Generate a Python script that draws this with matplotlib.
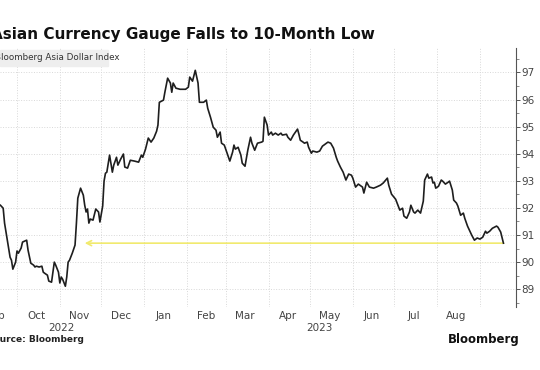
import numpy as np
import pandas as pd
import matplotlib
matplotlib.use('Agg')
import matplotlib.pyplot as plt
import matplotlib.transforms as mtransforms

# Bloomberg Asia Dollar Index, days counted from 1 Oct 2022
start = pd.Timestamp('2022-10-01')
days = [-12, -10, -9, -7, -5, -4, -3, -1, 0, 1, 3, 4, 7, 8, 10, 12, 13, 14, 16, 18,
        19, 20, 22, 23, 25, 26, 27, 28, 30, 31, 32, 33, 35, 36, 37, 38, 40, 42, 43, 44,
        46, 48, 49, 50, 51, 52, 53, 55, 57, 59, 60, 62, 63, 64, 65, 67, 69, 70, 72, 73,
        75, 77, 78, 80, 82, 85, 88, 90, 91, 93, 95, 97, 99, 101, 102, 103, 106, 107, 109, 111,
        112, 113, 115, 118, 122, 124, 125, 127, 129, 131, 132, 135, 137, 138, 140, 142, 144, 145, 147, 148,
        150, 153, 154, 156, 157, 158, 160, 162, 163, 165, 167, 169, 170, 172, 174, 177, 178, 179, 181, 182,
        184, 185, 187, 189, 191, 192, 195, 196, 198, 200, 203, 204, 205, 207, 208, 210, 211, 213, 214, 217,
        219, 221, 224, 225, 227, 229, 231, 232, 234, 236, 238, 240, 242, 243, 245, 247, 250, 251, 253, 255,
        258, 260, 263, 265, 268, 269, 271, 274, 277, 279, 280, 282, 284, 285, 287, 288, 290, 292, 294, 295,
        297, 298, 300, 301, 302, 303, 305, 307, 308, 310, 312, 313, 315, 316, 318, 319, 321, 323, 324, 326,
        329, 331, 333, 335, 337, 339, 340, 342, 344, 347, 348, 350, 352]
index = [92.10, 91.99, 91.44, 90.81, 90.18, 90.07, 89.74, 90.00, 90.41, 90.33, 90.52, 90.74, 90.81, 90.44, 89.96, 89.89, 89.82, 89.85, 89.82, 89.85,
         89.63, 89.59, 89.52, 89.30, 89.26, 89.63, 90.00, 89.89, 89.63, 89.23, 89.45, 89.37, 89.11, 89.45, 90.00, 90.07, 90.33, 90.63, 91.44, 92.36,
         92.73, 92.47, 92.10, 91.85, 91.96, 91.44, 91.59, 91.55, 91.96, 91.85, 91.48, 92.07, 92.99, 93.28, 93.32, 93.95, 93.32, 93.58, 93.87, 93.58,
         93.80, 93.99, 93.51, 93.47, 93.76, 93.73, 93.69, 93.95, 93.87, 94.17, 94.58, 94.43, 94.58, 94.83, 95.06, 95.90, 95.98, 96.27, 96.79, 96.61,
         96.27, 96.61, 96.42, 96.38, 96.38, 96.46, 96.83, 96.68, 97.08, 96.61, 95.90, 95.90, 95.98, 95.68, 95.35, 94.98, 94.87, 94.61, 94.80, 94.39,
         94.32, 93.87, 93.73, 94.06, 94.32, 94.17, 94.24, 93.95, 93.65, 93.54, 94.13, 94.61, 94.39, 94.13, 94.39, 94.43, 94.46, 95.35, 95.06, 94.69,
         94.80, 94.69, 94.76, 94.69, 94.76, 94.69, 94.72, 94.61, 94.50, 94.69, 94.91, 94.72, 94.50, 94.43, 94.39, 94.43, 94.24, 94.02, 94.10, 94.06,
         94.10, 94.28, 94.39, 94.43, 94.39, 94.21, 93.87, 93.73, 93.51, 93.32, 93.03, 93.25, 93.21, 93.10, 92.77, 92.88, 92.77, 92.55, 92.95, 92.77,
         92.73, 92.77, 92.84, 92.92, 93.10, 92.84, 92.51, 92.32, 91.92, 91.99, 91.70, 91.62, 91.85, 92.10, 91.85, 91.81, 91.92, 91.81, 92.25, 93.03,
         93.25, 93.10, 93.14, 92.92, 92.95, 92.73, 92.80, 93.03, 92.99, 92.88, 92.95, 92.99, 92.66, 92.29, 92.18, 92.07, 91.73, 91.81, 91.62, 91.33,
         91.00, 90.81, 90.89, 90.85, 90.92, 91.14, 91.07, 91.14, 91.25, 91.33, 91.29, 91.11, 90.70]
assert len(days) == len(index)

months = ['Sep', 'Oct', 'Nov', 'Dec', 'Jan', 'Feb', 'Mar', 'Apr', 'May', 'Jun', 'Jul', 'Aug']
month_mid = pd.date_range('2022-09-01', periods=12, freq='MS') + pd.Timedelta(days=14)
month_start = pd.date_range('2022-10-01', '2023-09-01', freq='MS')
low_level = 90.70
low_from = '2022-11-19'

dates = start + pd.to_timedelta(days, unit='D')

fig = plt.figure(figsize=(5.4, 3.7), dpi=100)
ax = fig.add_axes([0.0, 0.170, 0.9556, 0.700])

ax.plot(dates, index, color='#1e1e1e', lw=1.2, zorder=3)

# yellow arrow back to the November level
ax.annotate('', xy=(pd.Timestamp(low_from), low_level), xytext=(dates[-1], low_level),
            arrowprops=dict(arrowstyle='->', color='#f1ea6e', lw=1.2,
                            shrinkA=0, shrinkB=0, mutation_scale=9), zorder=2)

ax.set_xlim(start - pd.Timedelta(days=12.3), start + pd.Timedelta(days=361.1))
ax.set_ylim(88.34, 97.9)

for s in ['left', 'top', 'bottom']:
    ax.spines[s].set_visible(False)
ax.spines['right'].set_color('#555555')
ax.spines['right'].set_linewidth(0.8)

ax.yaxis.tick_right()
ax.set_yticks(np.arange(89, 98))
ax.set_yticks(np.arange(88.5, 98, 1.0), minor=True)
ax.tick_params(axis='y', which='major', length=3, width=0.7, color='#555555',
               labelsize=7.5, labelcolor='#444444', pad=1)
ax.tick_params(axis='y', which='minor', length=2, width=0.6, color='#777777')
ax.grid(axis='y', which='major', color='#d8d8d8', lw=0.7, ls=':')

ax.set_xticks(month_start)
ax.tick_params(axis='x', length=0, labelbottom=False)
ax.grid(axis='x', color='#d8d8d8', lw=0.7, ls=':')

trans = mtransforms.blended_transform_factory(ax.transData, ax.transAxes)
for m, d in zip(months, month_mid):
    ax.text(d, -0.015, m, transform=trans, ha='center', va='top', fontsize=7.5,
            color='#444444', clip_on=False)
ax.text(pd.Timestamp('2022-11-02'), -0.062, '2022', transform=trans, ha='center', va='top',
        fontsize=7.5, color='#444444', clip_on=False)
ax.text(pd.Timestamp('2023-05-08'), -0.062, '2023', transform=trans, ha='center', va='top',
        fontsize=7.5, color='#444444', clip_on=False)

# header and footer
fig.text(-9 / 540, 1 - 35 / 370, 'Asian Currency Gauge Falls to 10-Month Low',
         fontsize=11, fontweight='bold', color='#111111', va='center', ha='left')
fig.patches.append(plt.Rectangle((0, 1 - 66 / 370), 108 / 540, 16 / 370,
                                 transform=fig.transFigure, color='#eeeeee', zorder=0))
fig.text(-5 / 540, 1 - 58 / 370, 'Bloomberg Asia Dollar Index', fontsize=6.3,
         color='#333333', va='center', ha='left')
fig.text(-13 / 540, 1 - 339 / 370, 'Source: Bloomberg', fontsize=6.5, fontweight='bold',
         color='#222222', va='center', ha='left')
fig.text(520 / 540, 1 - 339 / 370, 'Bloomberg', fontsize=8.5, fontweight='bold',
         color='#111111', va='center', ha='right')

fig.savefig('out.png', dpi=100, facecolor='white')
